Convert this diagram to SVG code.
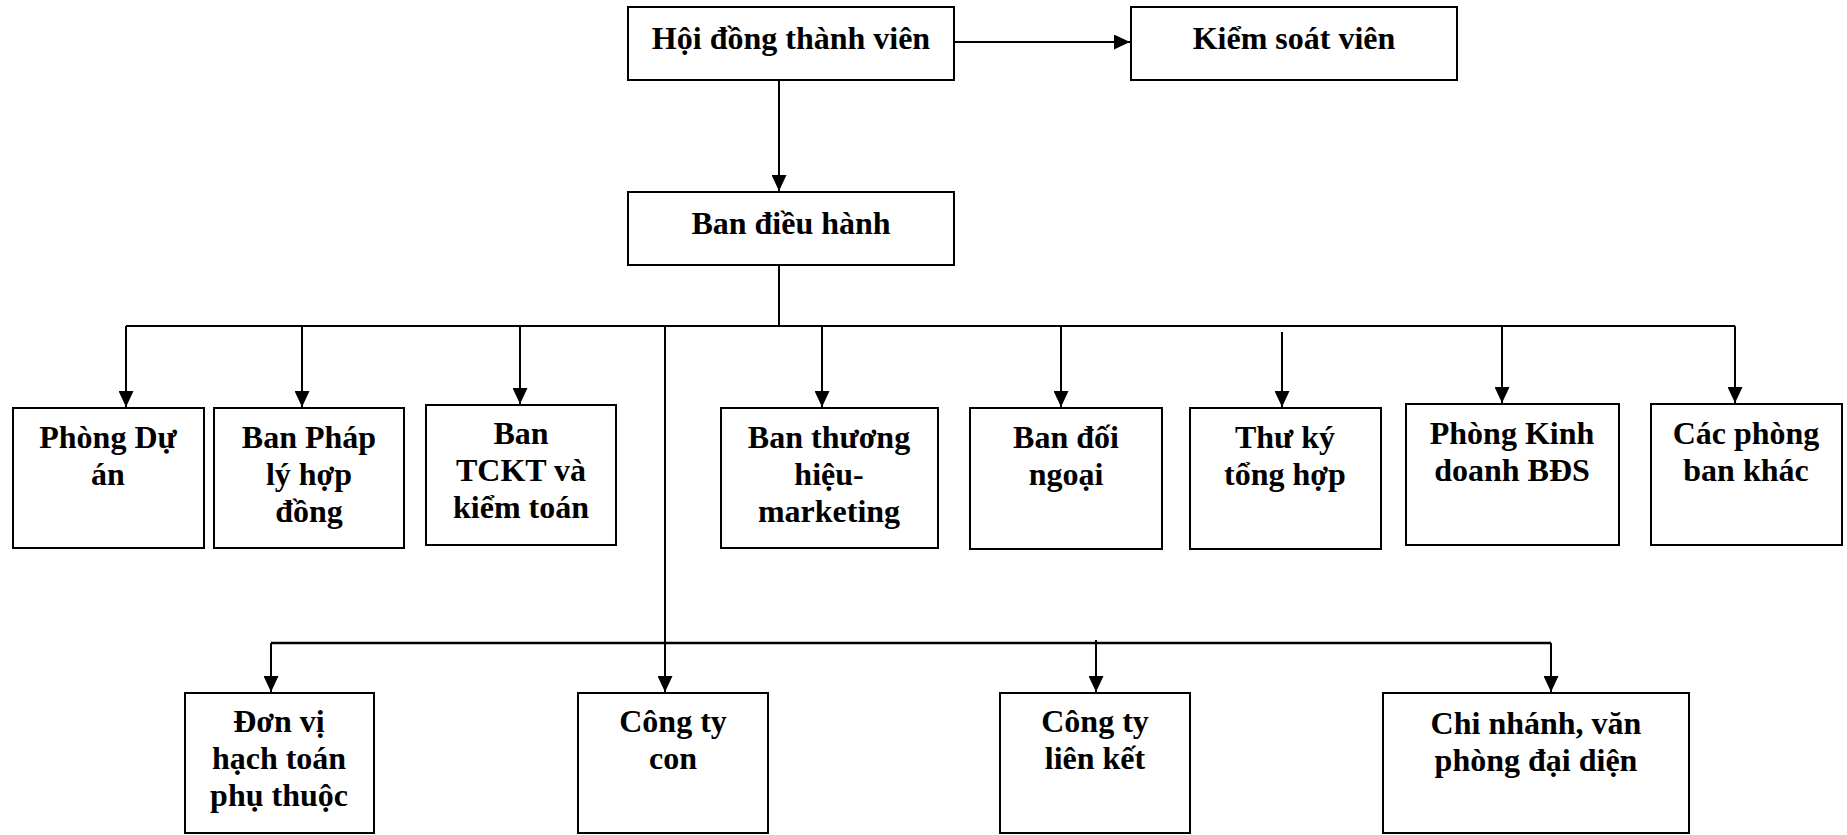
<svg xmlns="http://www.w3.org/2000/svg" width="1847" height="835" viewBox="0 0 1847 835">
  <style>
    .box { fill: #ffffff; stroke: #000000; stroke-width: 2; }
    .lbl { font-family: "Liberation Serif", "Times New Roman", serif; font-weight: bold; font-size: 32px; fill: #000000; text-anchor: middle; }
    .wire { fill: none; stroke: #000000; stroke-width: 2; }
    .wire-thick { fill: none; stroke: #000000; stroke-width: 2.6; }
  </style>
  <defs>
    <marker id="arrow" markerUnits="userSpaceOnUse" markerWidth="16" markerHeight="15" refX="16" refY="7.5" orient="auto">
      <path d="M0,0 L16,7.5 L0,15 Z" fill="#000000"/>
    </marker>
  </defs>
  <rect width="1847" height="835" fill="#ffffff"/>

  <!-- connectors -->
  <g id="connectors">
    <!-- board to supervisor -->
    <line class="wire" x1="954" y1="42" x2="1130" y2="42" marker-end="url(#arrow)"/>
    <!-- board to executive board -->
    <line class="wire" x1="779" y1="80" x2="779" y2="191" marker-end="url(#arrow)"/>
    <!-- executive board to department bus -->
    <line class="wire" x1="779" y1="265" x2="779" y2="326"/>
    <line class="wire" x1="126" y1="326" x2="1735" y2="326"/>
    <!-- department drops -->
    <line class="wire" x1="126" y1="326" x2="126" y2="407" marker-end="url(#arrow)"/>
    <line class="wire" x1="302" y1="326" x2="302" y2="407" marker-end="url(#arrow)"/>
    <line class="wire" x1="520" y1="326" x2="520" y2="404" marker-end="url(#arrow)"/>
    <line class="wire" x1="822" y1="326" x2="822" y2="407" marker-end="url(#arrow)"/>
    <line class="wire" x1="1061" y1="326" x2="1061" y2="407" marker-end="url(#arrow)"/>
    <line class="wire" x1="1282" y1="332" x2="1282" y2="407" marker-end="url(#arrow)"/>
    <line class="wire" x1="1502" y1="326" x2="1502" y2="403" marker-end="url(#arrow)"/>
    <line class="wire" x1="1735" y1="326" x2="1735" y2="403" marker-end="url(#arrow)"/>
    <!-- trunk to subsidiary units -->
    <line class="wire" x1="665" y1="326" x2="665" y2="692" marker-end="url(#arrow)"/>
    <line class="wire-thick" x1="271" y1="643" x2="1551" y2="643"/>
    <line class="wire" x1="271" y1="643" x2="271" y2="692" marker-end="url(#arrow)"/>
    <line class="wire" x1="1096" y1="640" x2="1096" y2="692" marker-end="url(#arrow)"/>
    <line class="wire" x1="1551" y1="643" x2="1551" y2="692" marker-end="url(#arrow)"/>
  </g>

  <g id="hoi-dong-thanh-vien">
    <rect class="box" x="628" y="7" width="326" height="73"/>
    <text class="lbl" x="791" y="49">Hội đồng thành viên</text>
  </g>
  <g id="kiem-soat-vien">
    <rect class="box" x="1131" y="7" width="326" height="73"/>
    <text class="lbl" x="1294" y="49">Kiểm soát viên</text>
  </g>
  <g id="ban-dieu-hanh">
    <rect class="box" x="628" y="192" width="326" height="73"/>
    <text class="lbl" x="791" y="234">Ban điều hành</text>
  </g>

  <g id="phong-du-an">
    <rect class="box" x="13" y="408" width="191" height="140"/>
    <text class="lbl" x="108" y="448">Phòng Dự</text>
    <text class="lbl" x="108" y="485">án</text>
  </g>
  <g id="ban-phap-ly">
    <rect class="box" x="214" y="408" width="190" height="140"/>
    <text class="lbl" x="309" y="448">Ban Pháp</text>
    <text class="lbl" x="309" y="485">lý hợp</text>
    <text class="lbl" x="309" y="522">đồng</text>
  </g>
  <g id="ban-tckt">
    <rect class="box" x="426" y="405" width="190" height="140"/>
    <text class="lbl" x="521" y="444">Ban</text>
    <text class="lbl" x="521" y="481">TCKT và</text>
    <text class="lbl" x="521" y="518">kiểm toán</text>
  </g>
  <g id="ban-thuong-hieu">
    <rect class="box" x="721" y="408" width="217" height="140"/>
    <text class="lbl" x="829" y="448">Ban thương</text>
    <text class="lbl" x="829" y="485">hiệu-</text>
    <text class="lbl" x="829" y="522">marketing</text>
  </g>
  <g id="ban-doi-ngoai">
    <rect class="box" x="970" y="408" width="192" height="141"/>
    <text class="lbl" x="1066" y="448">Ban đối</text>
    <text class="lbl" x="1066" y="485">ngoại</text>
  </g>
  <g id="thu-ky-tong-hop">
    <rect class="box" x="1190" y="408" width="191" height="141"/>
    <text class="lbl" x="1285" y="448">Thư ký</text>
    <text class="lbl" x="1285" y="485">tổng hợp</text>
  </g>
  <g id="phong-kinh-doanh">
    <rect class="box" x="1406" y="404" width="213" height="141"/>
    <text class="lbl" x="1512" y="444">Phòng Kinh</text>
    <text class="lbl" x="1512" y="481">doanh BĐS</text>
  </g>
  <g id="cac-phong-ban-khac">
    <rect class="box" x="1651" y="404" width="191" height="141"/>
    <text class="lbl" x="1746" y="444">Các phòng</text>
    <text class="lbl" x="1746" y="481">ban khác</text>
  </g>

  <g id="don-vi-hach-toan">
    <rect class="box" x="185" y="693" width="189" height="140"/>
    <text class="lbl" x="279" y="732">Đơn vị</text>
    <text class="lbl" x="279" y="769">hạch toán</text>
    <text class="lbl" x="279" y="806">phụ thuộc</text>
  </g>
  <g id="cong-ty-con">
    <rect class="box" x="578" y="693" width="190" height="140"/>
    <text class="lbl" x="673" y="732">Công ty</text>
    <text class="lbl" x="673" y="769">con</text>
  </g>
  <g id="cong-ty-lien-ket">
    <rect class="box" x="1000" y="693" width="190" height="140"/>
    <text class="lbl" x="1095" y="732">Công ty</text>
    <text class="lbl" x="1095" y="769">liên kết</text>
  </g>
  <g id="chi-nhanh">
    <rect class="box" x="1383" y="693" width="306" height="140"/>
    <text class="lbl" x="1536" y="734">Chi nhánh, văn</text>
    <text class="lbl" x="1536" y="771">phòng đại diện</text>
  </g>
</svg>
